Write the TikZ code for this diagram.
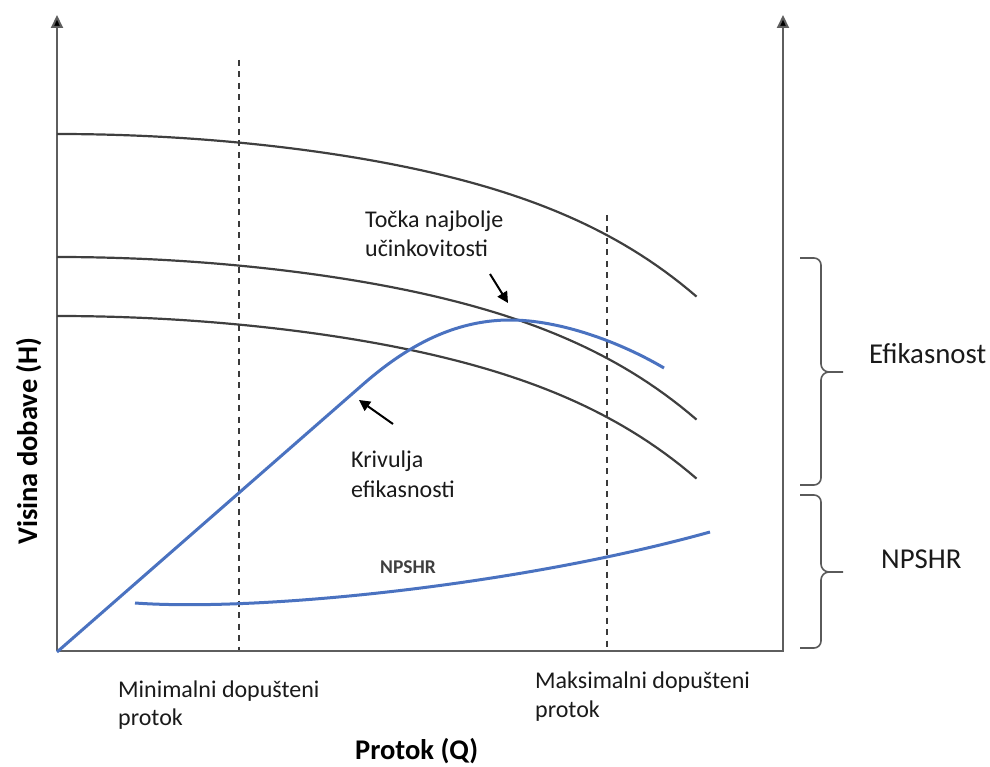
\documentclass[tikz,border=0pt]{standalone}
\usepackage{fontspec}
\setmainfont{Carlito}
\usetikzlibrary{arrows.meta}
\definecolor{axisgray}{HTML}{5E5E5E}
\definecolor{curvegray}{HTML}{3F3F3F}
\definecolor{effblue}{HTML}{4A72C0}
\definecolor{dashgray}{HTML}{3A3A3A}
\definecolor{bracegray}{HTML}{5A5A5A}
\definecolor{txt}{HTML}{1A1A1A}
\begin{document}
\begin{tikzpicture}[x=1pt,y=-1pt,
  axisline/.style={draw=axisgray, line width=2pt},
  axistip/.style={-{Triangle[length=13pt,width=12pt,fill=black]}},
  hqcurve/.style={draw=curvegray, line width=2.2pt},
  bluecurve/.style={draw=effblue, line width=3pt},
  limitline/.style={draw=dashgray, line width=1.6pt, dash pattern=on 6pt off 5.5pt},
  pointer/.style={draw=black, line width=2pt, -{Triangle[length=11pt,width=11pt]}},
  bracepath/.style={draw=bracegray, line width=1.6pt},
  lbl/.style={inner sep=0pt, anchor=base west, text=txt, font=\fontsize{24}{28}\selectfont},
  biglbl/.style={inner sep=0pt, anchor=base west, text=txt, font=\fontsize{28.8}{32}\selectfont},
  axlbl/.style={inner sep=0pt, anchor=base west, text=black, font=\bfseries\fontsize{28.5}{32}\selectfont},
  smalllbl/.style={inner sep=0pt, anchor=base west, text=curvegray, font=\bfseries\fontsize{19.5}{22}\selectfont}]
\useasboundingbox (0,0) rectangle (990,767);

% axes
\coordinate (origin) at (57,651);
\coordinate (ytop) at (57,15);
\coordinate (corner) at (783,651);
\coordinate (rtop) at (783,15);
\draw[axisline, axistip] (origin) -- (ytop);
\draw[axisline, axistip] (origin) -- (corner) -- (rtop);

% limit lines
\coordinate (minTop) at (239,60);
\coordinate (minBot) at (239,650);
\coordinate (maxTop) at (607,215);
\coordinate (maxBot) at (607,650);
\draw[limitline] (minTop) -- (minBot);
\draw[limitline] (maxTop) -- (maxBot);

% head curves
\foreach \yo in {134,257,316}
  \draw[hqcurve] plot[domain=0:1, samples=80, variable=\t]
    ({57+640*\t},{\yo+163*(0.65*\t*\t+0.35*\t^6)});

% efficiency curve
\coordinate (effStart) at (57,652);
\coordinate (effBend) at (360,387);
\coordinate (bep) at (510,320);
\coordinate (effEnd) at (664,368);
\draw[bluecurve] (effStart) -- (effBend) .. controls (395,356) and (445,320) .. (bep) .. controls (560,320) and (620,342) .. (effEnd);

% NPSHR curve
\coordinate (npStart) at (135,603);
\coordinate (npEnd) at (710,532);
\draw[bluecurve] (npStart) .. controls (260,612) and (520,585) .. (npEnd);

% pointers
\coordinate (bepTail) at (490,274);
\coordinate (bepHead) at (508,303);
\draw[pointer] (bepTail) -- (bepHead);
\coordinate (effTail) at (393,424);
\coordinate (effHead) at (359,400);
\draw[pointer] (effTail) -- (effHead);

% braces
\draw[bracepath] (800,258) -- (814,258) to[out=0,in=90] (821,265) -- (821,364) to[out=-90,in=180] (829,372) -- (843,372);
\draw[bracepath] (829,372) to[out=180,in=90] (821,380) -- (821,478) to[out=-90,in=0] (814,485) -- (800,485);
\draw[bracepath] (800,495) -- (814,495) to[out=0,in=90] (821,502) -- (821,564) to[out=-90,in=180] (829,572) -- (843,572);
\draw[bracepath] (829,572) to[out=180,in=90] (821,580) -- (821,641) to[out=-90,in=0] (814,648) -- (800,648);

% labels
\node[biglbl] (efik) at (869,363) {Efikasnost};
\node[biglbl] (npshrR) at (881,568) {NPSHR};
\node[lbl] (tocka1) at (365,228) {Točka najbolje};
\node[lbl] (tocka2) at (365,257) {učinkovitosti};
\node[lbl] (kriv1) at (351,467) {Krivulja};
\node[lbl] (kriv2) at (351,497) {efikasnosti};
\node[lbl] (min1) at (118,697) {Minimalni dopušteni};
\node[lbl] (min2) at (118,725) {protok};
\node[lbl] (max1) at (535,688) {Maksimalni dopušteni};
\node[lbl] (max2) at (535,717) {protok};
\node[smalllbl] (npshrS) at (380,573) {NPSHR};
\node[axlbl] (xlab) at (355,759) {Protok (Q)};
\node[axlbl, rotate=90] (ylab) at (37,545) {Visina dobave (H)};
\end{tikzpicture}
\end{document}
